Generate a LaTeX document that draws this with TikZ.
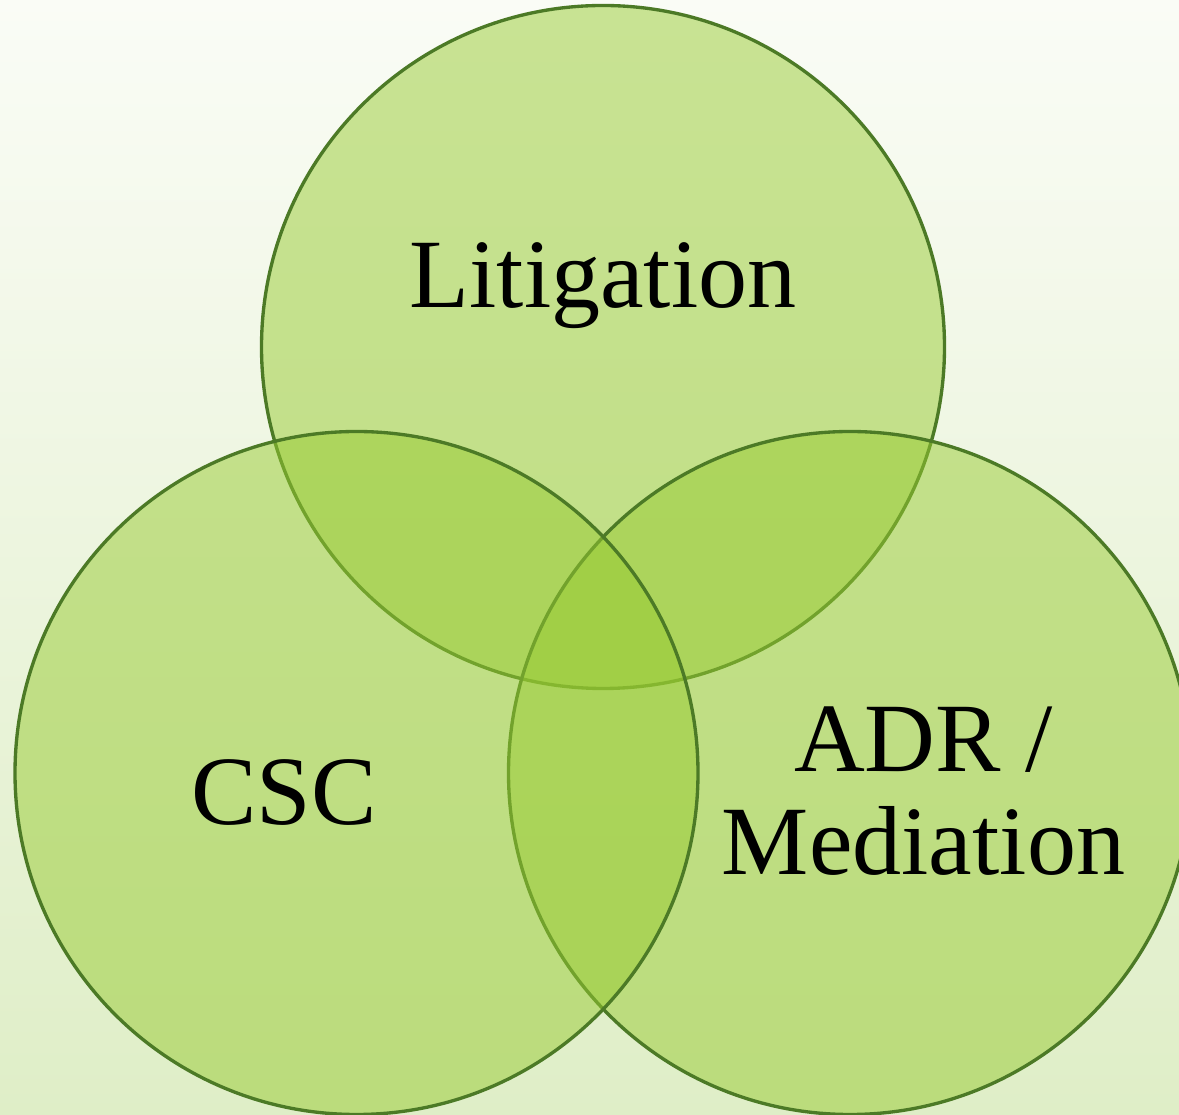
\documentclass[tikz,border=0pt]{standalone}
\usepackage{fontspec}
\setmainfont{Liberation Serif}
\definecolor{setfill}{RGB}{152,203,50}
\definecolor{setedge}{RGB}{76,122,38}
\definecolor{bgtop}{RGB}{250,252,246}
\definecolor{bgbottom}{RGB}{223,238,199}

\begin{document}
\begin{tikzpicture}[
    venn/.style={draw=setedge, line width=1.9pt, fill=setfill, fill opacity=0.5},
    setname/.style={font=\fontsize{55.8}{59}\selectfont, anchor=base, align=center}]
			%%%%% START %%%%%
			
			\shade[top color=bgtop, bottom color=bgbottom] (0, 0) rectangle (23.58, 22.28);
			\useasboundingbox (0, 0) rectangle (23.58, 22.28);
			
			\draw[venn] (12.06, 15.34) circle (6.83);
			\draw[venn] (17.0, 6.82) circle (6.83);
			\draw[venn] (7.13, 6.82) circle (6.83);
			
			\node[setname] (litigation) at (12.06, 16.12) {Litigation};
			\node[setname] (csc) at (5.68, 5.78) {CSC};
			\node[setname] (adr) at (18.47, 4.78) {ADR /\\Mediation};
			
			%%%%% END %%%%%
\end{tikzpicture}
\end{document}
